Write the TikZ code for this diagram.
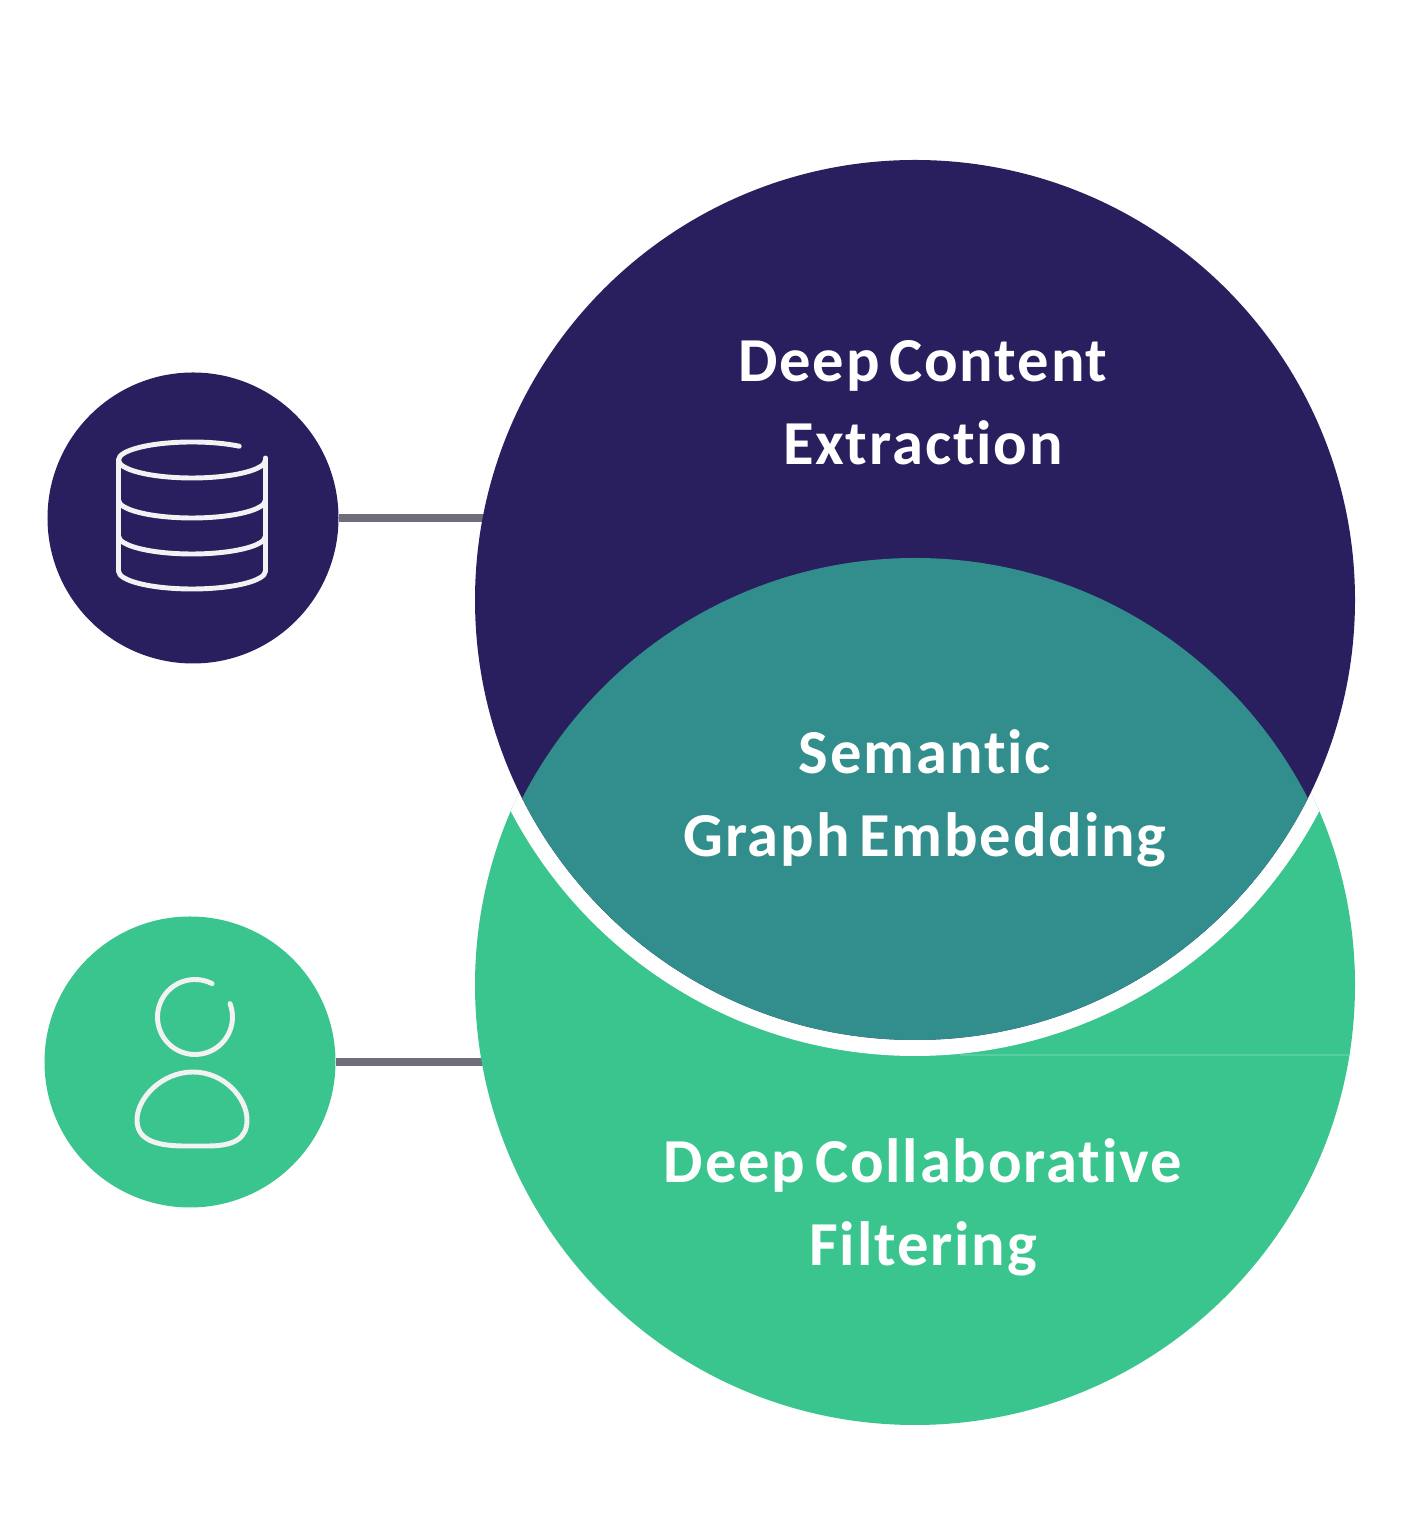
\documentclass[tikz,border=0pt]{standalone}
\usepackage{fontspec}
\setmainfont{Carlito}[LetterSpace=3,WordSpace=0.6,Ligatures=NoCommon]
\usetikzlibrary{backgrounds}
\definecolor{navydisc}{HTML}{2A1F5E}
\definecolor{greendisc}{HTML}{3AC58F}
\definecolor{tealdisc}{HTML}{318E8C}
\definecolor{linkgray}{HTML}{6F6D7B}
\tikzset{
  bigdisc/.style={circle,inner sep=0pt,outer sep=0pt,minimum size=8.8cm},
  smalldisc/.style={circle,inner sep=0pt,outer sep=0pt,minimum size=2.91cm},
  iconline/.style={white!95!black,line width=1.4pt,line cap=round,line join=round},
  linkline/.style={linkgray,line width=2.4pt},
  disclabel/.style={white,align=center,font=\fontsize{17.8}{23.6}\selectfont\bfseries}
}
\begin{document}
\begin{tikzpicture}
  \useasboundingbox (0,0) rectangle (14,15.36);
  \node[bigdisc,fill=greendisc] (filterdisc) at (9.15,5.51) {};
  \begin{scope}
    \clip (9.15,5.51) circle (4.4);
    \fill[white] (9.15,9.36) circle (4.56);
    \draw[greendisc!85!white,line width=0.4pt] (9.6,4.81) -- (13.5,4.81);
  \end{scope}
  \node[bigdisc,fill=navydisc] (contentdisc) at (9.15,9.36) {};
  \begin{scope}
    \clip (9.15,9.36) circle (4.4);
    \fill[tealdisc] (9.15,5.37) circle (4.41);
  \end{scope}
  \node[smalldisc,fill=navydisc] (dbdisc) at (1.93,10.18) {};
  \node[smalldisc,fill=greendisc] (userdisc) at (1.9,4.74) {};
  \begin{scope}[on background layer]
    \draw[linkline] (dbdisc.east) -- (dbdisc.east -| contentdisc.center);
    \draw[linkline] (userdisc.east) -- (userdisc.east -| filterdisc.center);
  \end{scope}
  % database
  \draw[iconline] (2.655,10.76) arc[start angle=360,end angle=50,x radius=.735,y radius=.18];
  \draw[iconline] (1.185,10.76) -- (1.185,9.65);
  \draw[iconline] (2.655,10.78) -- (2.655,9.65);
  \foreach \y in {10.36,10.0,9.65}
    \draw[iconline] (1.185,\y) arc[start angle=180,end angle=360,x radius=.735,y radius=.18];
  % user
  \draw[iconline] (1.95,5.19) ++(63:.375) arc[start angle=63,end angle=381,radius=.375];
  \draw[iconline] (1.93,4.64) .. controls (1.62,4.64) and (1.37,4.38) .. (1.37,4.16)
    .. controls (1.37,3.98) and (1.52,3.90) .. (1.85,3.90) -- (2.08,3.90)
    .. controls (2.35,3.90) and (2.47,3.98) .. (2.47,4.16)
    .. controls (2.47,4.38) and (2.24,4.64) .. (1.93,4.64) -- cycle;
  \node[disclabel] (contentlabel) at (9.23,11.33) {Deep Content\\Extraction};
  \node[disclabel] (graphlabel) at (9.25,7.38) {Semantic\\Graph Embedding};
  \node[disclabel] (filterlabel) at (9.23,3.29) {Deep Collaborative\\Filtering};
\end{tikzpicture}
\end{document}
